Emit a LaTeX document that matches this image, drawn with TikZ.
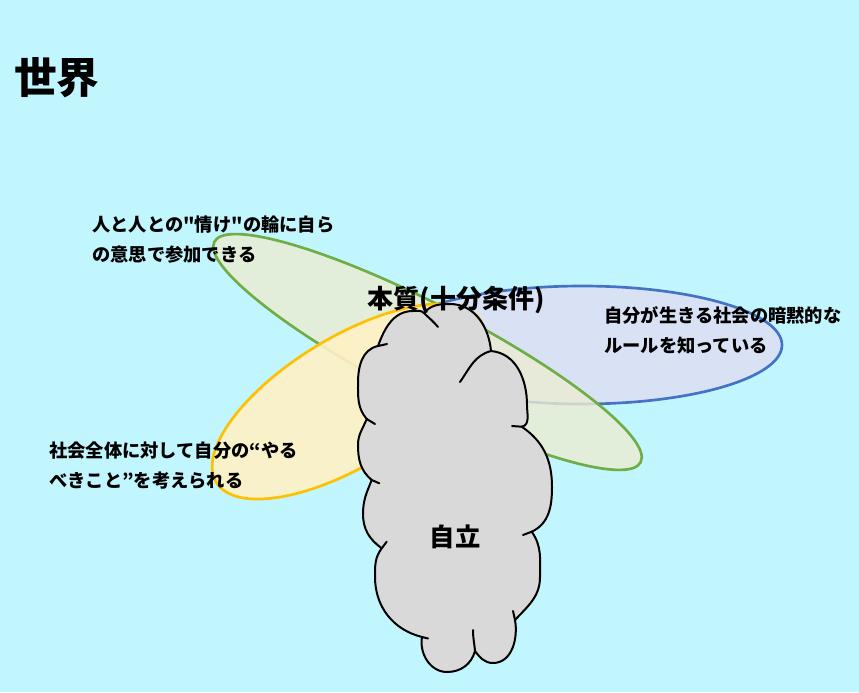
\documentclass[tikz,border=0pt]{standalone}
\usepackage{fontspec}
\newfontfamily\jp{Noto Sans CJK JP}
\definecolor{bgc}{RGB}{193,246,255}
\definecolor{blueE}{HTML}{4472C4}
\definecolor{greenE}{HTML}{70AD47}
\definecolor{yelE}{HTML}{FFC000}
\definecolor{blueF}{RGB}{224,222,243}
\definecolor{greenF}{RGB}{235,237,209}
\definecolor{yelF}{RGB}{255,241,196}
\definecolor{cloudF}{HTML}{D9D9D9}
\tikzset{
  ell/.style={line width=2pt, fill opacity=0.8},
  lbl/.style={font=\jp\bfseries\fontsize{13.7}{22.5}\selectfont, align=left, inner sep=0pt, anchor=west},
  cloudline/.style={draw=black, line width=1.5pt, line join=round, line cap=round},
}
\begin{document}
\begin{tikzpicture}[x=0.75pt,y=0.75pt]
\useasboundingbox (0,0) rectangle (859,-692);
\fill[bgc] (0,0) rectangle (859,-692);
% ellipses
\draw[ell, draw=blueE, fill=blueF] (582,-345) ellipse [x radius=200, y radius=59];
\draw[ell, draw=greenE, fill=greenF, rotate around={-27.35:(427.5,-352)}] (427.5,-352) ellipse [x radius=240, y radius=47];
\draw[ell, fill opacity=0.9, draw=yelE, fill=yelF, rotate around={31.45:(348.5,-401.5)}] (348.5,-401.5) ellipse [x radius=155, y radius=64];
% cloud
\filldraw[cloudline, fill=cloudF]
 (424,-313) to[out=50,in=180] (450,-304) to[out=0,in=95] (491,-351)
 to[out=-5,in=90] (527,-405) to[out=-90,in=10] (521.7,-426.7)
 to[out=-34,in=90] (552,-487) to[out=-90,in=25] (531.7,-531.7)
 to[out=-55,in=90] (540,-577) to[out=-90,in=47] (515,-620)
 to[out=-80,in=0] (493,-663) to[out=180,in=-53] (475,-651)
 to[out=-105,in=0] (447,-672) to[out=180,in=-100] (422,-637)
 to[out=166,in=-90] (375,-577) to[out=90,in=-127] (381.7,-548.3)
 to[out=144,in=-90] (363,-514) to[out=90,in=-112] (371.7,-480)
 to[out=140,in=-90] (358,-445) to[out=90,in=-112] (366.7,-419)
 to[out=130,in=-90] (358,-383) to[out=90,in=-168] (378,-346)
 to[out=70,in=180] (413,-311) to[out=0,in=135] (424,-313)
 -- cycle;
\draw[cloudline] (424,-313) to[out=-45,in=130] (438,-327);
\draw[cloudline] (491,-351) to[out=195,in=55] (460,-382);
\draw[cloudline] (521.7,-426.7) -- (512,-426);
\draw[cloudline] (531.7,-531.7) -- (523,-535);
\draw[cloudline] (515,-620) -- (513,-611);
\draw[cloudline] (475,-651) to[out=95,in=-90] (473,-630);
\draw[cloudline] (422,-637) -- (428,-638.5);
\draw[cloudline] (381.7,-548.3) -- (386.7,-541.7);
\draw[cloudline] (371.7,-480) -- (379.3,-483.3);
\draw[cloudline] (366.7,-419) -- (375,-424);
\draw[cloudline] (378,-346) -- (387,-344);
% texts
\node[lbl] (tG) at (92,-240) {人と人との"情け"の輪に自ら\\の意思で参加できる};
\node[lbl] (tY) at (49,-466) {社会全体に対して自分の“やる\\べきこと”を考えられる};
\node[lbl] (tB) at (604,-330) {自分が生きる社会の暗黙的な\\ルールを知っている};
\node[font=\jp\bfseries\fontsize{19.5}{24}\selectfont, inner sep=0pt] (hon) at (456,-300) {本質(十分条件)};
\node[font=\jp\bfseries\fontsize{19}{24}\selectfont, inner sep=0pt] (jir) at (455,-537) {自立};
\node[font=\jp\bfseries\fontsize{32}{36}\selectfont, inner sep=0pt, anchor=west] (sek) at (14,-78) {世界};
\end{tikzpicture}
\end{document}
